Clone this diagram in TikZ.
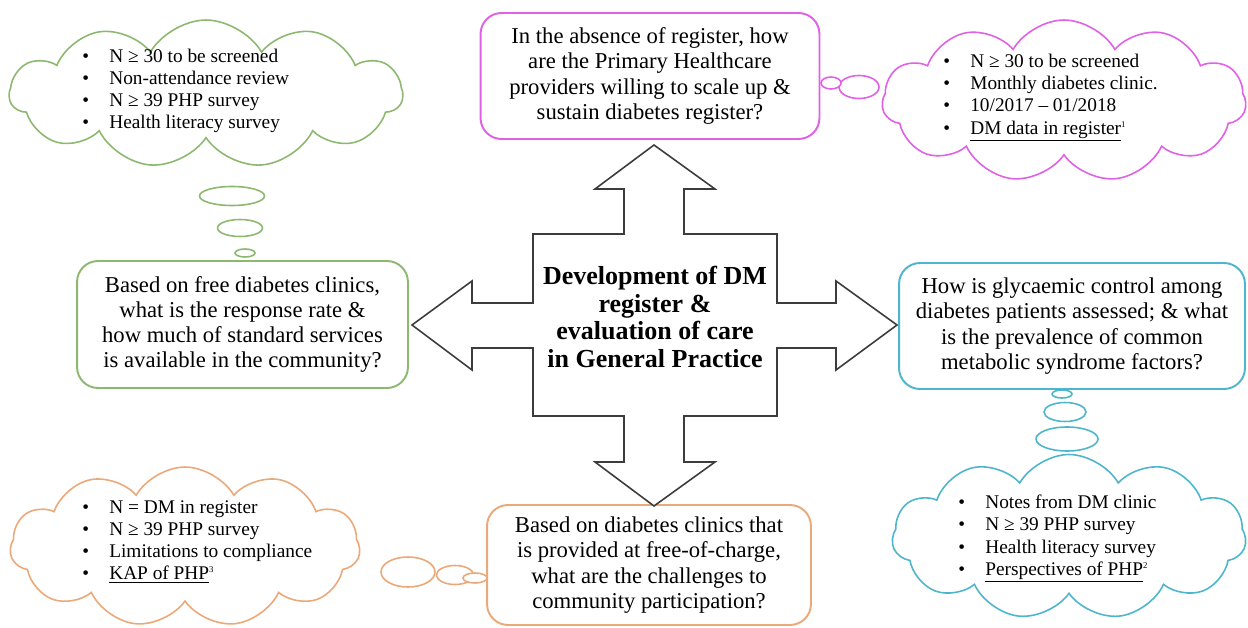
\documentclass[tikz,border=0pt]{standalone}
\usepackage{fontspec}
\setmainfont{Liberation Serif}
\usepackage{tikz}
\usetikzlibrary{shapes.symbols, positioning}
\definecolor{Q_Green}{HTML}{8DB870}
\definecolor{Q_Magenta}{HTML}{E060E6}
\definecolor{Q_Cyan}{HTML}{4DB6CC}
\definecolor{Q_Orange}{HTML}{EBA878}
\definecolor{Q_Grey}{HTML}{3C3C3C}

\tikzset{
  qbox/.style={draw, line width=1.1pt, rounded corners=0.42cm, fill=white, align=center,
    inner sep=0pt, font=\fontsize{12.9}{14.4}\selectfont},
  thought/.style={draw, cloud, cloud puffs=11, cloud puff arc=120, cloud ignores aspect,
    line width=0.9pt, fill=white, inner sep=0pt},
  bubble/.style={draw, line width=0.9pt, fill=white},
  cloudtext/.style={anchor=west, inner sep=0pt, font=\fontsize{11}{12.6}\selectfont},
}
\newcommand{\bulletlist}[1]{\begin{tabular}{@{}l@{\hspace{11.5pt}}l@{}}#1\end{tabular}}

\begin{document}
\begin{tikzpicture}[x=0.02cm, y=-0.02cm]
  \useasboundingbox (0,0) rectangle (1248,628);
  % Clouds
  \node[thought, draw=Q_Green, minimum width=7.86cm, minimum height=2.96cm] (cloudA) at (206,94) {};
  \node[thought, draw=Q_Magenta, minimum width=7.28cm, minimum height=3.24cm] (cloudB) at (1064,101) {};
  \node[thought, draw=Q_Cyan, minimum width=7.08cm, minimum height=3.30cm] (cloudC) at (1069,537) {};
  \node[thought, draw=Q_Orange, minimum width=7.0cm, minimum height=3.2cm] (cloudD) at (185,547) {};
  % Cloud texts
  \node[cloudtext] (itemsA) at (82,91) {\bulletlist{
    \textbullet & N ≥ 30 to be screened\\
    \textbullet & Non-attendance review\\
    \textbullet & N ≥ 39 PHP survey\\
    \textbullet & Health literacy survey}};
  \node[cloudtext] (itemsB) at (943,97) {\bulletlist{
    \textbullet & N ≥ 30 to be screened\\
    \textbullet & Monthly diabetes clinic.\\
    \textbullet & 10/2017 – 01/2018\\
    \textbullet & \underline{DM data in register}\textsuperscript{\tiny 1}}};
  \node[cloudtext] (itemsC) at (958,538) {\bulletlist{
    \textbullet & Notes from DM clinic\\
    \textbullet & N ≥ 39 PHP survey\\
    \textbullet & Health literacy survey\\
    \textbullet & \underline{Perspectives of PHP}\textsuperscript{\tiny 2}}};
  \node[cloudtext] (itemsD) at (82,542) {\bulletlist{
    \textbullet & N = DM in register\\
    \textbullet & N ≥ 39 PHP survey\\
    \textbullet & Limitations to compliance\\
    \textbullet & \underline{KAP of PHP}\textsuperscript{\tiny 3}}};
  % Thought bubbles
  \draw[bubble, draw=Q_Green] (232,196) ellipse (32.5 and 9.5);
  \draw[bubble, draw=Q_Green] (240,228) ellipse (22.5 and 8.5);
  \draw[bubble, draw=Q_Green] (245,253) ellipse (10 and 4);
  \draw[bubble, draw=Q_Magenta] (859,87) ellipse (20 and 11.5);
  \draw[bubble, draw=Q_Magenta] (831,83) ellipse (10 and 6);
  \draw[bubble, draw=Q_Cyan] (1062,394) ellipse (10 and 4);
  \draw[bubble, draw=Q_Cyan] (1065,412) ellipse (21 and 9.5);
  \draw[bubble, draw=Q_Cyan] (1067,439) ellipse (31 and 12);
  \draw[bubble, draw=Q_Orange] (408,572) ellipse (27 and 15);
  \draw[bubble, draw=Q_Orange] (455,575) ellipse (18.5 and 9.5);
  \draw[bubble, draw=Q_Orange] (475,578) ellipse (12 and 5);
  % Question boxes
  \node[qbox, draw=Q_Magenta, minimum width=6.78cm, minimum height=2.52cm] (qtop) at (650,76)
    {In the absence of register, how\\are the Primary Healthcare\\providers willing to scale up \&\\sustain diabetes register?};
  \node[qbox, draw=Q_Green, minimum width=6.62cm, minimum height=2.54cm] (qleft) at (242.5,324.5)
    {Based on free diabetes clinics,\\what is the response rate \&\\how much of standard services\\is available in the community?};
  \node[qbox, draw=Q_Cyan, minimum width=6.92cm, minimum height=2.52cm] (qright) at (1072,326)
    {How is glycaemic control among\\diabetes patients assessed; \& what\\is the prevalence of common\\metabolic syndrome factors?};
  \node[qbox, draw=Q_Orange, minimum width=6.48cm, minimum height=2.40cm] (qbottom) at (649,565)
    {Based on diabetes clinics that\\is provided at free-of-charge,\\what are the challenges to\\community participation?};
  % Four-way arrow
  \draw[Q_Grey, line width=0.9pt, fill=white]
    (654,145) -- (715,189) -- (684,189) -- (684,234) -- (777,234) -- (777,303) -- (836,303)
    -- (836,281) -- (897,325) -- (836,370) -- (836,348) -- (777,348) -- (777,416)
    -- (684,416) -- (684,462) -- (715,462) -- (654,506) -- (595,462) -- (624,462)
    -- (624,416) -- (533,416) -- (533,348) -- (472,348) -- (472,370) -- (412,325)
    -- (472,281) -- (472,303) -- (533,303) -- (533,234) -- (624,234) -- (624,189)
    -- (595,189) -- cycle;
  \node[align=center, font=\bfseries\fontsize{14.8}{15.9}\selectfont] (core) at (655,317)
    {Development of DM\\register \&\\evaluation of care\\in General Practice};
\end{tikzpicture}
\end{document}
